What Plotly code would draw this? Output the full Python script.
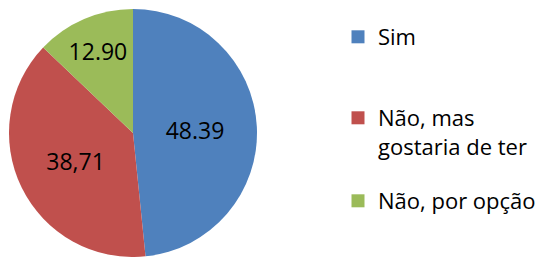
import plotly.graph_objects as go

categories = ["Sim", "Não, mas<br>gostaria de ter", "Não, por opção"]
values = [48.39, 38.71, 12.90]
value_labels = ["48.39", "38,71", "12.90"]
colors = ["#4F81BD", "#C0504D", "#9BBB59"]

FONT = "Open Sans"

# page body has an 8px margin, so the figure is offset by 8px on screen
W, H = 545, 249

fig = go.Figure()
fig.add_trace(go.Pie(
    labels=categories,
    values=values,
    text=value_labels,
    textinfo="text",
    textposition="inside",
    insidetextorientation="horizontal",
    sort=False,
    direction="clockwise",
    rotation=0,
    marker=dict(colors=colors, line=dict(color="#FFFFFF", width=0)),
    textfont=dict(family=FONT, size=23, color="#000000"),
    showlegend=False,
    domain=dict(x=[1 / W, 249 / W], y=[0.0, 248 / H]),
    hoverinfo="skip",
))

legend_names = ["legend", "legend2", "legend3"]
legend_pos = [(330 / W, 1 - 8 / H), (330 / W, 1 - 89 / H), (330 / W, 1 - 172 / H)]
for name, color, lg in zip(categories, colors, legend_names):
    fig.add_trace(go.Scatter(
        x=[None], y=[None], mode="markers", name=name,
        marker=dict(symbol="square", size=13, color=color),
        legend=lg, showlegend=True,
    ))

legend_common = dict(font=dict(family=FONT, size=22, color="#000000"),
                     bgcolor="rgba(0,0,0,0)", borderwidth=0,
                     xanchor="left", yanchor="top", valign="top",
                     itemclick=False, itemdoubleclick=False)
layout_legends = {}
for lg, (lx, ly) in zip(legend_names, legend_pos):
    layout_legends[lg] = dict(x=lx, y=ly, **legend_common)

fig.update_layout(
    width=W, height=H,
    margin=dict(l=0, r=0, t=0, b=0),
    paper_bgcolor="#FFFFFF",
    plot_bgcolor="#FFFFFF",
    xaxis=dict(visible=False),
    yaxis=dict(visible=False),
    **layout_legends,
)

fig.write_html("out.html")
